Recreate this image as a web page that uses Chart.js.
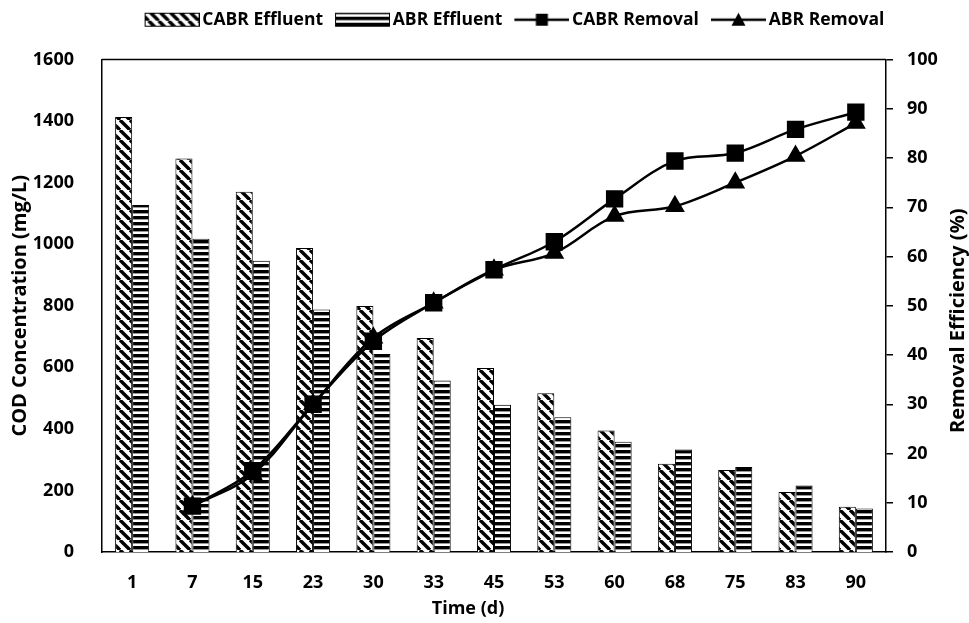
<!DOCTYPE html>
<html lang="en">
<head>
<meta charset="UTF-8">
<title>COD Concentration and Removal Efficiency</title>
<script src="https://cdn.jsdelivr.net/npm/chart.js"></script>
<style>
  body { margin: 0; background: #fff; }
</style>
</head>
<body>
<canvas id="codChart" width="969" height="623"></canvas>
<script>
// time points (d)
const days = ['1', '7', '15', '23', '30', '33', '45', '53', '60', '68', '75', '83', '90'];

// effluent COD (mg/L)
const cabrEffluent = [1413, 1278, 1170, 988, 799, 695, 598, 516, 395, 287, 266, 195, 147];
const abrEffluent = [1127, 1018, 946, 788, 643, 557, 478, 438, 358, 333, 276, 216, 141];

// removal efficiency (%)
const cabrRemoval = [null, 9.3, 16.5, 30.0, 42.8, 50.6, 57.3, 63.0, 71.7, 79.4, 81.0, 85.8, 89.3];
const abrRemoval = [null, 9.3, 15.8, 30.0, 43.5, 50.6, 57.3, 60.7, 68.2, 70.2, 75.0, 80.4, 87.1];

// axis ticks
const codTicks = [0, 200, 400, 600, 800, 1000, 1200, 1400, 1600];
const effTicks = [0, 10, 20, 30, 40, 50, 60, 70, 80, 90, 100];

const canvas = document.getElementById('codChart');
const ctx = canvas.getContext('2d');

function makeTile(w, h, draw) {
    const c = document.createElement('canvas');
    c.width = w;
    c.height = h;
    const g = c.getContext('2d');
    g.fillStyle = '#fff';
    g.fillRect(0, 0, w, h);
    draw(g);
    return c;
}

// "\\\" hatch for CABR, horizontal stripes for ABR
const diagTile = makeTile(10, 10, g => {
    g.strokeStyle = '#000';
    g.lineWidth = 3.4;
    [-10, 0, 10].forEach(o => {
        g.beginPath();
        g.moveTo(o, 0);
        g.lineTo(o + 10, 10);
        g.stroke();
    });
});
const stripeTile = makeTile(6, 6, g => {
    g.fillStyle = '#000';
    g.fillRect(0, 0, 6, 3.4);
});
const diagFill = ctx.createPattern(diagTile, 'repeat');
const stripeFill = ctx.createPattern(stripeTile, 'repeat');

// legend icons: 55px of content in the right part of a 61px canvas,
// so the gap to the label text stays small
function legendIcon(draw) {
    const c = document.createElement('canvas');
    c.width = 61;
    c.height = 18;
    const g = c.getContext('2d');
    draw(g);
    return c;
}
const boxIcon = pat => legendIcon(g => {
    g.fillStyle = g.createPattern(pat, 'repeat');
    g.fillRect(6, 2, 55, 14);
    g.strokeStyle = '#000';
    g.lineWidth = 1;
    g.strokeRect(6.5, 2.5, 54, 13);
});
const lineIcon = marker => legendIcon(g => {
    g.strokeStyle = '#000';
    g.fillStyle = '#000';
    g.lineWidth = 2.5;
    g.beginPath();
    g.moveTo(6, 9);
    g.lineTo(61, 9);
    g.stroke();
    g.beginPath();
    if (marker === 'rect') {
        g.rect(27.5, 3, 12, 12);
    } else {
        g.moveTo(33.5, 2);
        g.lineTo(40.5, 15);
        g.lineTo(26.5, 15);
        g.closePath();
    }
    g.fill();
});
const legendIcons = [boxIcon(diagTile), boxIcon(stripeTile), lineIcon('rect'), lineIcon('triangle')];

const tickFont = { family: 'Open Sans', weight: 'bold', size: 18 };
const sideTitleFont = { family: 'Open Sans', weight: 'bold', size: 20 };

// top frame line, titles that Chart.js can't place the same way, legend offset
const framePlugin = {
    id: 'frame',
    afterLayout(chart) {
        const lg = chart.legend;
        lg.left += 30;
        lg.right += 30;
        lg.top -= 21;
        lg.bottom -= 21;
    },
    afterDraw(chart) {
        const { ctx, chartArea: a } = chart;
        ctx.save();
        ctx.strokeStyle = '#000';
        ctx.lineWidth = 1.5;
        ctx.beginPath();
        ctx.moveTo(a.left, a.top);
        ctx.lineTo(a.right, a.top);
        ctx.stroke();

        ctx.fillStyle = '#000';
        ctx.textAlign = 'center';
        ctx.textBaseline = 'middle';
        ctx.font = 'bold 18px "Open Sans"';
        ctx.fillText('Time (d)', (a.left + a.right) / 2 - 26, 609);

        ctx.translate(958, (a.top + a.bottom) / 2 + 15);
        ctx.rotate(-Math.PI / 2);
        ctx.font = 'bold 20px "Open Sans"';
        ctx.fillText('Removal Efficiency (%)', 0, 0);
        ctx.restore();
    }
};

new Chart(ctx, {
    type: 'bar',
    data: {
        labels: days,
        datasets: [
            {
                label: 'CABR Effluent',
                data: cabrEffluent,
                backgroundColor: diagFill,
                borderColor: '#000',
                borderWidth: 1,
                yAxisID: 'y',
                order: 1
            },
            {
                label: 'ABR Effluent',
                data: abrEffluent,
                backgroundColor: stripeFill,
                borderColor: '#000',
                borderWidth: 1,
                yAxisID: 'y',
                order: 1
            },
            {
                type: 'line',
                label: 'CABR Removal',
                data: cabrRemoval,
                borderColor: '#000',
                backgroundColor: '#000',
                borderWidth: 2.5,
                pointStyle: 'rect',
                pointRadius: 10.5,
                tension: 0.35,
                yAxisID: 'y1',
                order: 0
            },
            {
                type: 'line',
                label: 'ABR Removal',
                data: abrRemoval,
                borderColor: '#000',
                backgroundColor: '#000',
                borderWidth: 2.5,
                pointStyle: 'triangle',
                pointRadius: 9,
                tension: 0.35,
                yAxisID: 'y1',
                order: 0
            }
        ]
    },
    options: {
        responsive: false,
        animation: false,
        devicePixelRatio: 1,
        categoryPercentage: 0.565,
        barPercentage: 1,
        layout: { padding: { top: 20 } },
        plugins: {
            tooltip: { enabled: false },
            legend: {
                position: 'top',
                labels: {
                    usePointStyle: true,
                    pointStyleWidth: 49,
                    padding: 12,
                    color: '#000',
                    font: { family: 'Open Sans', weight: 'bold', size: 17.5 },
                    generateLabels: chart => chart.data.datasets.map((ds, i) => ({
                        text: ds.label,
                        pointStyle: legendIcons[i],
                        fillStyle: 'transparent',
                        strokeStyle: 'transparent',
                        lineWidth: 0,
                        fontColor: '#000',
                        hidden: false,
                        datasetIndex: i
                    }))
                }
            }
        },
        scales: {
            x: {
                grid: { display: false },
                border: { color: '#000', width: 1.5 },
                ticks: { color: '#000', font: tickFont, padding: 12 },
                afterFit: s => { s.height = 71; }
            },
            y: {
                position: 'left',
                min: 0,
                max: 1600,
                grid: { display: false },
                border: { color: '#000', width: 1.5 },
                ticks: { color: '#000', font: tickFont, padding: 20, callback: v => String(v) },
                afterBuildTicks: s => { s.ticks = codTicks.map(v => ({ value: v })); },
                title: { display: true, text: 'COD Concentration (mg/L)', color: '#000', font: sideTitleFont, padding: { top: 8, bottom: 0 } },
                afterFit: s => { s.width = 102; }
            },
            y1: {
                position: 'right',
                min: 0,
                max: 100,
                grid: { drawOnChartArea: false, color: '#000', tickLength: 7, lineWidth: 1.5 },
                border: { color: '#000', width: 1.5 },
                ticks: { color: '#000', font: tickFont, padding: 14 },
                afterBuildTicks: s => { s.ticks = effTicks.map(v => ({ value: v })); },
                afterFit: s => { s.width = 83; }
            }
        }
    },
    plugins: [framePlugin]
});
</script>
</body>
</html>
